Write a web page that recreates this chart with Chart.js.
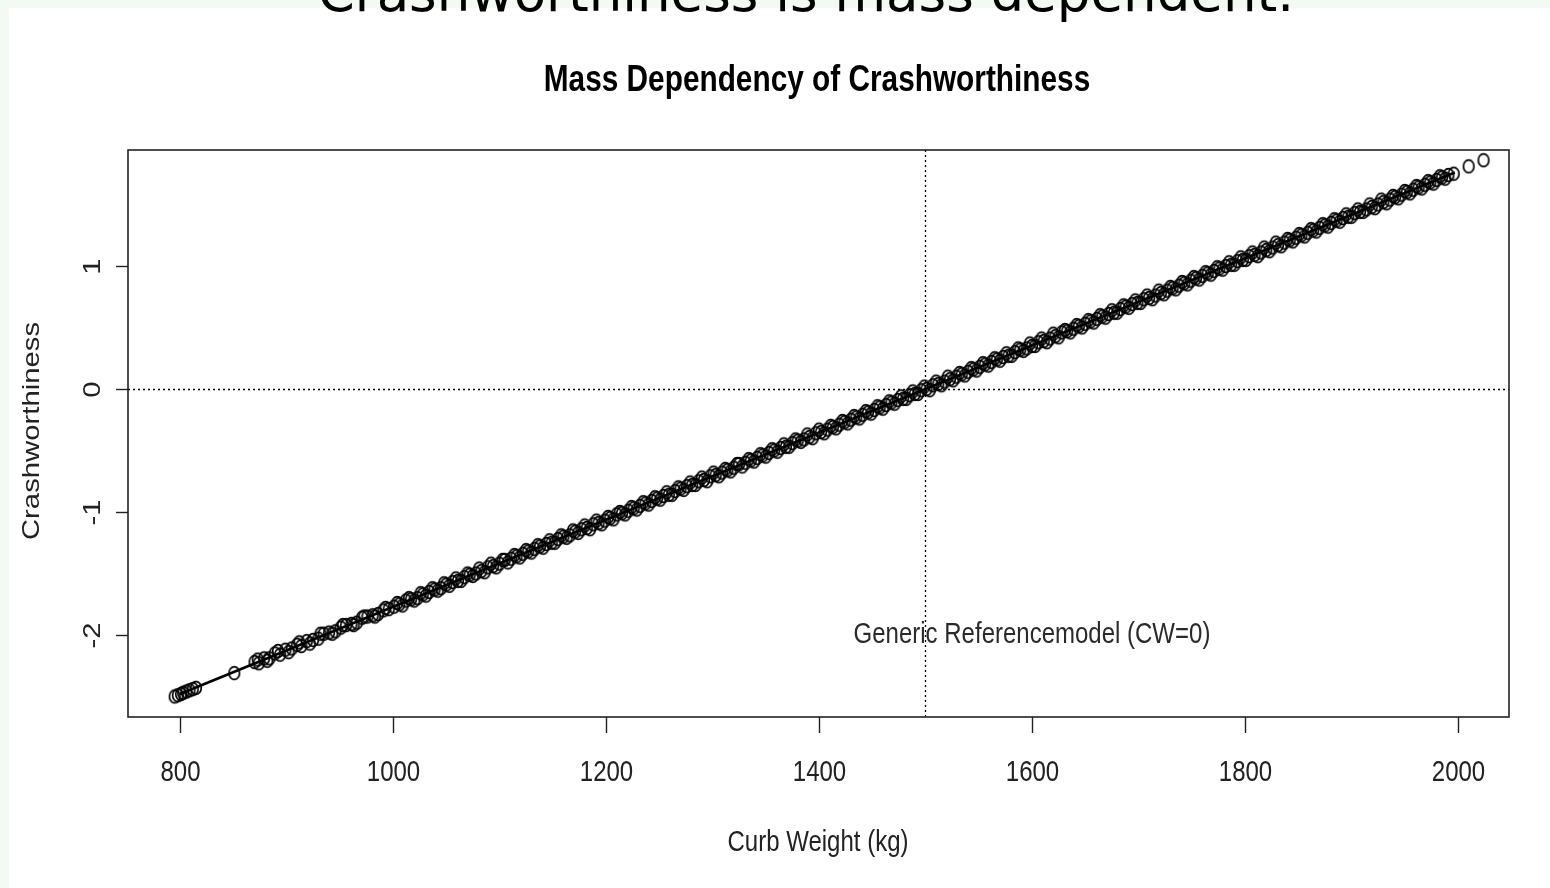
<!DOCTYPE html>
<html>
<head>
<meta charset="utf-8">
<title>Mass Dependency of Crashworthiness</title>
<script src="https://cdn.jsdelivr.net/npm/chart.js@4.4.1/dist/chart.umd.min.js"></script>
<style>
  html, body { margin: 0; padding: 0; }
  body { width: 1550px; height: 888px; background: #f3f9f3; position: relative; overflow: hidden; }
  .panel { position: absolute; left: 9px; top: 8px; right: 0; bottom: 0; background: #ffffff; }
  #crashChart { position: absolute; left: 0; top: 0; }
</style>
</head>
<body>
<div class="panel"></div>
<canvas id="crashChart" width="1550" height="888"></canvas>
<script>
// Curb weight (kg) of each car
const curbWeights = [
  795, 798, 801, 803, 806, 809, 812, 815, 851,
  870, 874, 879, 884, 889, 894, 899, 905, 910, 914, 919, 925, 930, 935, 940, 946,
  951, 956, 961, 966, 971, 976, 981, 986, 991, 996,
  1001, 1006, 1012, 1017, 1023, 1028, 1034, 1039, 1045, 1050, 1056, 1061, 1067, 1072,
  1078, 1083, 1089, 1094, 1100, 1105, 1111, 1116, 1122, 1127, 1133, 1138, 1144, 1149,
  1155, 1160, 1166, 1171, 1177, 1182, 1188, 1193, 1199, 1204, 1210, 1215, 1221, 1226,
  1232, 1237, 1243, 1248, 1254, 1259, 1265, 1270, 1276, 1281, 1287, 1292, 1298, 1303,
  1309, 1314, 1320, 1325, 1331, 1336, 1342, 1347, 1353, 1358, 1364, 1369, 1375, 1380,
  1386, 1391, 1397, 1402, 1408, 1413, 1419, 1424, 1430, 1435, 1441, 1446, 1452, 1457,
  1463, 1468, 1474, 1479, 1485, 1490, 1496, 1501, 1507, 1512, 1518, 1523, 1529, 1534,
  1540, 1545, 1551, 1556, 1562, 1567, 1573, 1578, 1584, 1589, 1595, 1600, 1606, 1611,
  1617, 1622, 1628, 1633, 1639, 1644, 1650, 1655, 1661, 1666, 1672, 1677, 1683, 1688,
  1694, 1699, 1705, 1710, 1716, 1721, 1727, 1732, 1738, 1743, 1749, 1754, 1760, 1765,
  1771, 1776, 1782, 1787, 1793, 1798, 1804, 1809, 1815, 1820, 1826, 1831, 1837, 1842,
  1848, 1853, 1859, 1864, 1870, 1875, 1881, 1886, 1892, 1897, 1903, 1908, 1914, 1919,
  1925, 1930, 1936, 1941, 1947, 1952, 1958, 1963, 1969, 1974, 1980, 1985, 1991, 1996,
  2010, 2024
];

// Crashworthiness score of each car (same order as curbWeights)
const crashScores = [
  -2.50, -2.49, -2.48, -2.47, -2.46, -2.45, -2.44, -2.43, -2.31,
  -2.22, -2.23, -2.19, -2.19, -2.15, -2.16, -2.12, -2.11, -2.08, -2.09, -2.05, -2.04, -2.03, -1.99, -1.98, -1.97,
  -1.94, -1.92, -1.91, -1.90, -1.86, -1.85, -1.84, -1.83, -1.80, -1.79,
  -1.77, -1.75, -1.72, -1.71, -1.70, -1.67, -1.65, -1.63, -1.62, -1.59, -1.57, -1.56, -1.53, -1.51,
  -1.50, -1.48, -1.45, -1.44, -1.42, -1.39, -1.38, -1.36, -1.34, -1.32, -1.30, -1.28, -1.26, -1.25,
  -1.22, -1.20, -1.19, -1.16, -1.14, -1.13, -1.10, -1.09, -1.07, -1.05, -1.02, -1.01, -0.99, -0.97,
  -0.95, -0.93, -0.91, -0.89, -0.87, -0.86, -0.83, -0.81, -0.79, -0.78, -0.75, -0.74, -0.71, -0.70,
  -0.68, -0.66, -0.64, -0.61, -0.60, -0.58, -0.56, -0.54, -0.52, -0.50, -0.48, -0.47, -0.44, -0.42,
  -0.41, -0.39, -0.36, -0.35, -0.33, -0.31, -0.29, -0.27, -0.25, -0.23, -0.21, -0.19, -0.17, -0.15,
  -0.13, -0.11, -0.09, -0.08, -0.05, -0.04, -0.01, 0.00, 0.03, 0.04, 0.06, 0.08, 0.10, 0.12,
  0.14, 0.16, 0.18, 0.20, 0.22, 0.24, 0.26, 0.27, 0.30, 0.32, 0.33, 0.35, 0.38, 0.39,
  0.41, 0.43, 0.46, 0.47, 0.49, 0.51, 0.53, 0.55, 0.57, 0.59, 0.61, 0.62, 0.65, 0.67,
  0.69, 0.70, 0.73, 0.74, 0.76, 0.78, 0.80, 0.82, 0.84, 0.86, 0.88, 0.90, 0.92, 0.94,
  0.96, 0.98, 1.00, 1.01, 1.04, 1.05, 1.08, 1.09, 1.11, 1.13, 1.15, 1.17, 1.19, 1.21,
  1.23, 1.25, 1.27, 1.29, 1.31, 1.33, 1.35, 1.37, 1.39, 1.40, 1.43, 1.44, 1.46, 1.48,
  1.50, 1.52, 1.54, 1.56, 1.58, 1.60, 1.62, 1.64, 1.66, 1.68, 1.70, 1.72, 1.74, 1.75,
  1.81, 1.86
];

// More cars in the dense band (weights, then their scores)
const moreWeights = [
  873, 882, 892, 902, 912, 922, 932, 943, 953, 963, 973, 983, 993,
  1004, 1009, 1015, 1020, 1026, 1031, 1037, 1042, 1048, 1053, 1059, 1064, 1070, 1075,
  1081, 1086, 1092, 1097, 1103, 1108, 1114, 1119, 1125, 1130, 1136, 1141, 1147, 1152,
  1158, 1163, 1169, 1174, 1180, 1185, 1191, 1196, 1202, 1207, 1213, 1218, 1224, 1229,
  1235, 1240, 1246, 1251, 1257, 1262, 1268, 1273, 1279, 1284, 1290, 1295, 1301, 1306,
  1312, 1317, 1323, 1328, 1334, 1339, 1345, 1350, 1356, 1361, 1367, 1372, 1378, 1383,
  1389, 1394, 1400, 1405, 1411, 1416, 1422, 1427, 1433, 1438, 1444, 1449, 1455, 1460,
  1466, 1471, 1477, 1482, 1488, 1493, 1499, 1504, 1510, 1515, 1521, 1526, 1532, 1537,
  1543, 1548, 1554, 1559, 1565, 1570, 1576, 1581, 1587, 1592, 1598, 1603, 1609, 1614,
  1620, 1625, 1631, 1636, 1642, 1647, 1653, 1658, 1664, 1669, 1675, 1680, 1686, 1691,
  1697, 1702, 1708, 1713, 1719, 1724, 1730, 1735, 1741, 1746, 1752, 1757, 1763, 1768,
  1774, 1779, 1785, 1790, 1796, 1801, 1807, 1812, 1818, 1823, 1829, 1834, 1840, 1845,
  1851, 1856, 1862, 1867, 1873, 1878, 1884, 1889, 1895, 1900, 1906, 1911, 1917, 1922,
  1928, 1933, 1939, 1944, 1950, 1955, 1961, 1966, 1972, 1977, 1983, 1988
];

const moreScores = [
  -2.20, -2.21, -2.13, -2.14, -2.06, -2.07, -1.99, -1.99, -1.92, -1.92, -1.85, -1.85, -1.78,
  -1.74, -1.76, -1.70, -1.72, -1.66, -1.68, -1.62, -1.64, -1.58, -1.60, -1.54, -1.56, -1.50, -1.52,
  -1.46, -1.49, -1.42, -1.45, -1.39, -1.41, -1.35, -1.37, -1.31, -1.33, -1.27, -1.29, -1.23, -1.25,
  -1.19, -1.21, -1.15, -1.17, -1.11, -1.14, -1.07, -1.10, -1.04, -1.06, -1.00, -1.02, -0.96, -0.98,
  -0.92, -0.94, -0.88, -0.90, -0.84, -0.86, -0.80, -0.82, -0.76, -0.78, -0.72, -0.75, -0.68, -0.71,
  -0.65, -0.67, -0.61, -0.63, -0.57, -0.59, -0.53, -0.55, -0.49, -0.51, -0.45, -0.47, -0.41, -0.43,
  -0.37, -0.40, -0.33, -0.36, -0.30, -0.32, -0.26, -0.28, -0.22, -0.24, -0.18, -0.20, -0.14, -0.16,
  -0.10, -0.12, -0.06, -0.08, -0.02, -0.04, 0.02, -0.01, 0.06, 0.03, 0.10, 0.07, 0.13, 0.11,
  0.17, 0.15, 0.21, 0.19, 0.25, 0.23, 0.29, 0.27, 0.33, 0.31, 0.37, 0.35, 0.41, 0.38,
  0.45, 0.42, 0.48, 0.46, 0.52, 0.50, 0.56, 0.54, 0.60, 0.58, 0.64, 0.62, 0.68, 0.66,
  0.72, 0.70, 0.76, 0.73, 0.80, 0.77, 0.83, 0.81, 0.87, 0.85, 0.91, 0.89, 0.95, 0.93,
  0.99, 0.97, 1.03, 1.01, 1.07, 1.05, 1.11, 1.08, 1.15, 1.12, 1.19, 1.16, 1.22, 1.20,
  1.26, 1.24, 1.30, 1.28, 1.34, 1.32, 1.38, 1.36, 1.42, 1.40, 1.46, 1.44, 1.50, 1.47,
  1.54, 1.51, 1.57, 1.55, 1.61, 1.59, 1.65, 1.63, 1.69, 1.67, 1.73, 1.71
];

// Fitted line end points
const fitWeights = [800, 1997];
const fitScores = [-2.48, 1.76];

// Axis ticks
const xTickValues = [800, 1000, 1200, 1400, 1600, 1800, 2000];
const yTickValues = [-2, -1, 0, 1];

// Reference model position
const refWeight = 1500;
const refScore = 0;

const FONT = '"Liberation Sans", Arial, sans-serif';
const STRETCH = 1.22; // the original screenshot is stretched vertically

// Draw text stretched vertically like the original picture
function drawText(ctx, text, x, y, size, opts) {
    opts = opts || {};
    ctx.save();
    ctx.translate(x, y);
    ctx.scale(1, STRETCH);
    if (opts.rotate) ctx.rotate(-Math.PI / 2);
    ctx.font = (opts.bold ? 'bold ' : '') + size + 'px ' + FONT;
    ctx.fillStyle = opts.color || '#222';
    ctx.textAlign = 'center';
    ctx.textBaseline = 'middle';
    ctx.fillText(text, 0, 0);
    ctx.restore();
}

// Open circle, a little taller than wide
function makeCircleMarker() {
    const c = document.createElement('canvas');
    c.width = 16;
    c.height = 18;
    const g = c.getContext('2d');
    g.strokeStyle = '#000';
    g.lineWidth = 1.7;
    g.beginPath();
    g.ellipse(8, 9, 5.3, 6.4, 0, 0, Math.PI * 2);
    g.stroke();
    return c;
}

const rPlotPlugin = {
    id: 'rPlot',
    beforeDatasetsDraw(chart) {
        const ctx = chart.ctx;
        const area = chart.chartArea;
        const xs = chart.scales.x;
        const ys = chart.scales.y;

        // dotted reference lines
        ctx.save();
        ctx.strokeStyle = '#000';
        ctx.lineWidth = 1.3;
        ctx.setLineDash([2, 3]);
        const px = Math.round(xs.getPixelForValue(refWeight)) + 0.5;
        ctx.beginPath();
        ctx.moveTo(px, area.top);
        ctx.lineTo(px, area.bottom);
        ctx.stroke();
        const py = Math.round(ys.getPixelForValue(refScore)) + 0.5;
        ctx.beginPath();
        ctx.moveTo(area.left, py);
        ctx.lineTo(area.right, py);
        ctx.stroke();
        ctx.restore();
    },
    afterDraw(chart) {
        const ctx = chart.ctx;
        const area = chart.chartArea;
        const xs = chart.scales.x;
        const ys = chart.scales.y;

        // plot box
        ctx.save();
        ctx.strokeStyle = '#222';
        ctx.lineWidth = 1.6;
        ctx.strokeRect(area.left, area.top, area.right - area.left, area.bottom - area.top);

        // x ticks and labels
        ctx.lineWidth = 1.4;
        xTickValues.forEach(v => {
            const x = Math.round(xs.getPixelForValue(v)) + 0.5;
            ctx.beginPath();
            ctx.moveTo(x, area.bottom);
            ctx.lineTo(x, area.bottom + 16);
            ctx.stroke();
            drawText(ctx, String(v), x, 773, 24);
        });

        // y ticks and rotated labels
        yTickValues.forEach(v => {
            const y = Math.round(ys.getPixelForValue(v)) + 0.5;
            ctx.beginPath();
            ctx.moveTo(area.left - 12, y);
            ctx.lineTo(area.left, y);
            ctx.stroke();
            drawText(ctx, String(v), 93, y, 24, { rotate: true });
        });
        ctx.restore();

        // titles
        drawText(ctx, 'Mass Dependency of Crashworthiness', 817, 81, 29.8, { bold: true, color: '#000' });
        drawText(ctx, 'Curb Weight (kg)', 818, 843, 24);
        drawText(ctx, 'Crashworthiness', 32, 431, 24, { rotate: true });

        // annotation
        drawText(ctx, 'Generic Referencemodel (CW=0)',
            xs.getPixelForValue(1600), ys.getPixelForValue(-2), 24, { color: '#2a2a2a' });

        // slide heading, cut off by the top edge
        ctx.save();
        ctx.font = '53px "DejaVu Sans", sans-serif';
        ctx.fillStyle = '#000';
        ctx.textAlign = 'center';
        ctx.textBaseline = 'alphabetic';
        ctx.fillText('Crashworthiness is mass dependent.', 806, 11);
        ctx.restore();
    }
};

document.addEventListener('DOMContentLoaded', function() {
    const ctx = document.getElementById('crashChart').getContext('2d');
    const marker = makeCircleMarker();

    const allWeights = curbWeights.concat(moreWeights);
    const allScores = crashScores.concat(moreScores);
    const points = allWeights.map((w, i) => ({ x: w, y: allScores[i] }));
    const fitLine = fitWeights.map((w, i) => ({ x: w, y: fitScores[i] }));

    new Chart(ctx, {
        type: 'scatter',
        data: {
            datasets: [
                {
                    label: 'Fit',
                    type: 'line',
                    data: fitLine,
                    borderColor: '#000',
                    borderWidth: 2.6,
                    pointRadius: 0,
                    fill: false,
                    order: 0
                },
                {
                    label: 'Cars',
                    data: points,
                    pointStyle: marker,
                    pointRadius: 5,
                    order: 1
                }
            ]
        },
        options: {
            responsive: false,
            animation: false,
            events: [],
            layout: {
                padding: { left: 128, top: 150, right: 41, bottom: 171 }
            },
            plugins: {
                legend: { display: false },
                title: { display: false },
                tooltip: { enabled: false }
            },
            scales: {
                x: { type: 'linear', display: false, min: 751.2, max: 2047.9 },
                y: { type: 'linear', display: false, min: -2.667, max: 1.943 }
            }
        },
        plugins: [rPlotPlugin]
    });
});
</script>
</body>
</html>
